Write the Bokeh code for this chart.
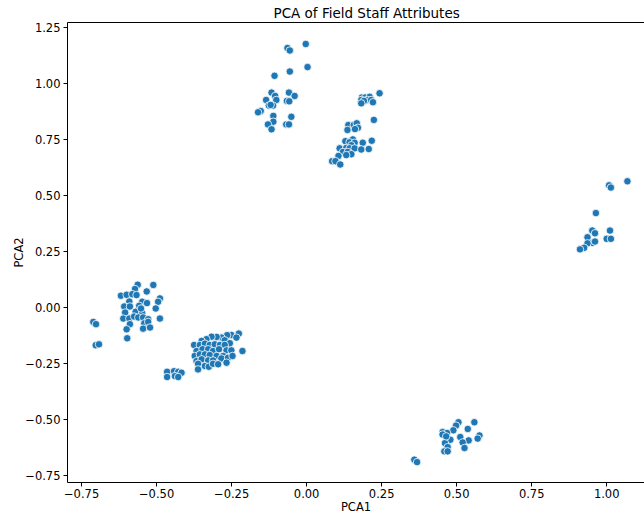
from bokeh.plotting import figure
from bokeh.models import Range1d, FixedTicker, LinearAxis, CustomJSTickFormatter
from bokeh.embed import file_html
from bokeh.resources import INLINE

# ---- data ----
clusterA_pca1 = [-0.064, -0.056, -0.003, 0.003, -0.056, -0.107, -0.117, -0.105, -0.135, -0.101,
                 -0.059, -0.040, -0.066, -0.058, -0.126, -0.112, -0.120, -0.153, -0.162, -0.111,
                 -0.051, -0.111, -0.129, -0.117, -0.068, -0.059]
clusterA_pca2 = [1.160, 1.149, 1.178, 1.075, 1.055, 1.036, 0.961, 0.946, 0.928, 0.928,
                 0.961, 0.946, 0.924, 0.922, 0.903, 0.903, 0.906, 0.879, 0.873, 0.857,
                 0.853, 0.831, 0.819, 0.797, 0.819, 0.819]

clusterB_pca1 = [0.243, 0.184, 0.195, 0.210, 0.182, 0.202, 0.215, 0.191, 0.221, 0.182,
                 0.224, 0.139, 0.157, 0.167, 0.171, 0.136, 0.161, 0.217, 0.154, 0.129,
                 0.143, 0.160, 0.187, 0.149, 0.110, 0.132, 0.143, 0.160, 0.182, 0.207,
                 0.121, 0.137, 0.149, 0.132, 0.106, 0.085, 0.096, 0.112]
clusterB_pca2 = [0.958, 0.939, 0.939, 0.942, 0.928, 0.928, 0.928, 0.924, 0.918, 0.913,
                 0.839, 0.816, 0.816, 0.824, 0.804, 0.794, 0.798, 0.746, 0.752, 0.744,
                 0.739, 0.737, 0.737, 0.726, 0.712, 0.714, 0.712, 0.712, 0.707, 0.709,
                 0.696, 0.696, 0.686, 0.682, 0.678, 0.655, 0.655, 0.640]

clusterC_pca1 = [-0.563, -0.511, -0.572, -0.533, -0.619, -0.600, -0.581, -0.567, -0.489, -0.591,
                 -0.548, -0.532, -0.495, -0.608, -0.589, -0.558, -0.503, -0.605, -0.570, -0.548,
                 -0.552, -0.611, -0.591, -0.575, -0.561, -0.545, -0.528, -0.489, -0.589, -0.541,
                 -0.528, -0.600, -0.545, -0.522, -0.598, -0.711, -0.702, -0.703, -0.692]
clusterC_pca2 = [0.103, 0.102, 0.084, 0.073, 0.054, 0.058, 0.061, 0.057, 0.042, 0.028,
                 0.027, 0.021, 0.027, 0.006, 0.006, 0.009, -0.003, -0.021, -0.018, -0.024,
                 -0.003, -0.048, -0.048, -0.039, -0.043, -0.043, -0.051, -0.048, -0.073, -0.069,
                 -0.063, -0.096, -0.093, -0.088, -0.136, -0.063, -0.073, -0.167, -0.163]

clusterD_pca1 = [-0.226, -0.251, -0.265, -0.234, -0.284, -0.300, -0.317, -0.334, -0.350, -0.273,
                 -0.256, -0.375, -0.356, -0.339, -0.323, -0.306, -0.289, -0.273, -0.214, -0.367,
                 -0.347, -0.328, -0.312, -0.292, -0.267, -0.251, -0.373, -0.356, -0.339, -0.323,
                 -0.300, -0.278, -0.367, -0.350, -0.328, -0.312, -0.284, -0.262, -0.247, -0.362,
                 -0.339, -0.326, -0.312, -0.295, -0.267, -0.362,
                 -0.465, -0.442, -0.428, -0.417, -0.465, -0.439, -0.428]
clusterD_pca2 = [-0.115, -0.121, -0.122, -0.133, -0.133, -0.130, -0.129, -0.140, -0.148, -0.145,
                 -0.158, -0.166, -0.166, -0.160, -0.166, -0.163, -0.166, -0.166, -0.193, -0.193,
                 -0.185, -0.185, -0.193, -0.185, -0.190, -0.190, -0.215, -0.208, -0.208, -0.211,
                 -0.215, -0.215, -0.238, -0.230, -0.235, -0.235, -0.226, -0.223, -0.215, -0.250,
                 -0.260, -0.263, -0.250, -0.252, -0.245, -0.275,
                 -0.286, -0.283, -0.286, -0.290, -0.309, -0.305, -0.309]

clusterE_pca1 = [1.008, 1.014, 1.069, 0.964, 0.952, 0.961, 1.011, 0.936, 1.000, 1.014,
                 0.952, 0.961, 0.936, 0.925, 0.911]
clusterE_pca2 = [0.547, 0.537, 0.565, 0.423, 0.345, 0.333, 0.345, 0.315, 0.308, 0.308,
                 0.290, 0.296, 0.288, 0.268, 0.261]

clusterF_pca1 = [0.506, 0.559, 0.498, 0.537, 0.489, 0.453, 0.468, 0.576, 0.512, 0.479,
                 0.540, 0.570, 0.520, 0.461, 0.453, 0.470, 0.459, 0.470, 0.526, 0.465,
                 0.359, 0.368]
clusterF_pca2 = [-0.511, -0.511, -0.526, -0.541, -0.547, -0.555, -0.559, -0.570, -0.577, -0.589,
                 -0.592, -0.584, -0.601, -0.604, -0.566, -0.622, -0.641, -0.641, -0.626, -0.574,
                 -0.678, -0.689]

x_ticks = [-0.75, -0.5, -0.25, 0.0, 0.25, 0.5, 0.75, 1.0]
y_ticks = [-0.75, -0.5, -0.25, 0.0, 0.25, 0.5, 0.75, 1.0, 1.25]
title_text = "PCA of Field Staff Attributes"
x_label = "PCA1"
y_label = "PCA2"

pca1 = clusterA_pca1 + clusterB_pca1 + clusterC_pca1 + clusterD_pca1 + clusterE_pca1 + clusterF_pca1
pca2 = clusterA_pca2 + clusterB_pca2 + clusterC_pca2 + clusterD_pca2 + clusterE_pca2 + clusterF_pca2

FONT = "DejaVu Sans"

p = figure(width=644, height=516, output_backend="svg", toolbar_location=None,
           x_range=Range1d(-0.797, 1.126), y_range=Range1d(-0.780, 1.274),
           title=title_text)
p.min_border = 0
p.min_border_left = 67
p.min_border_right = 0
p.min_border_top = 0
p.min_border_bottom = 0

p.title.text_font = FONT
p.title.text_font_size = "13.5px"
p.title.text_font_style = "normal"
p.title.text_color = "black"
p.title.align = "left"
p.title.offset = 206
p.title.standoff = 4

p.outline_line_color = None
p.grid.visible = False
p.background_fill_color = "white"
p.border_fill_color = "white"

fmt = CustomJSTickFormatter(code="return (tick < 0 ? '\u2212' : '') + Math.abs(tick).toFixed(2);")

for ax, ticks in ((p.xaxis[0], x_ticks), (p.yaxis[0], y_ticks)):
    ax.ticker = FixedTicker(ticks=ticks)
    ax.formatter = fmt
    ax.axis_label_text_font = FONT
    ax.axis_label_text_font_size = "11.5px"
    ax.axis_label_text_font_style = "normal"
    ax.axis_label_text_color = "black"
    ax.major_label_text_font = FONT
    ax.major_label_text_font_size = "11.5px"
    ax.major_label_text_color = "black"
    ax.axis_line_color = "black"
    ax.axis_line_width = 1
    ax.major_tick_line_color = "black"
    ax.major_tick_out = 4
    ax.major_tick_in = 0
    ax.minor_tick_line_color = None
    ax.major_label_standoff = 3

p.yaxis[0].axis_label = y_label
p.yaxis[0].axis_label_standoff = -4
p.xaxis[0].axis_label = x_label
p.xaxis[0].axis_label_standoff = -1
p.xaxis[0].major_label_standoff = 2

# top spine (line only)
top = LinearAxis(ticker=FixedTicker(ticks=x_ticks), axis_line_color="black", axis_line_width=1,
                 major_tick_line_color=None, minor_tick_line_color=None,
                 major_label_text_font_size="1px", major_label_text_alpha=0,
                 major_label_standoff=0, major_tick_out=0, major_tick_in=0)
p.add_layout(top, "above")

p.scatter(pca1, pca2, size=7.5, fill_color="#1f77b4", line_color="white", line_width=0.8)

open("out.html", "w").write(file_html(p, INLINE))
